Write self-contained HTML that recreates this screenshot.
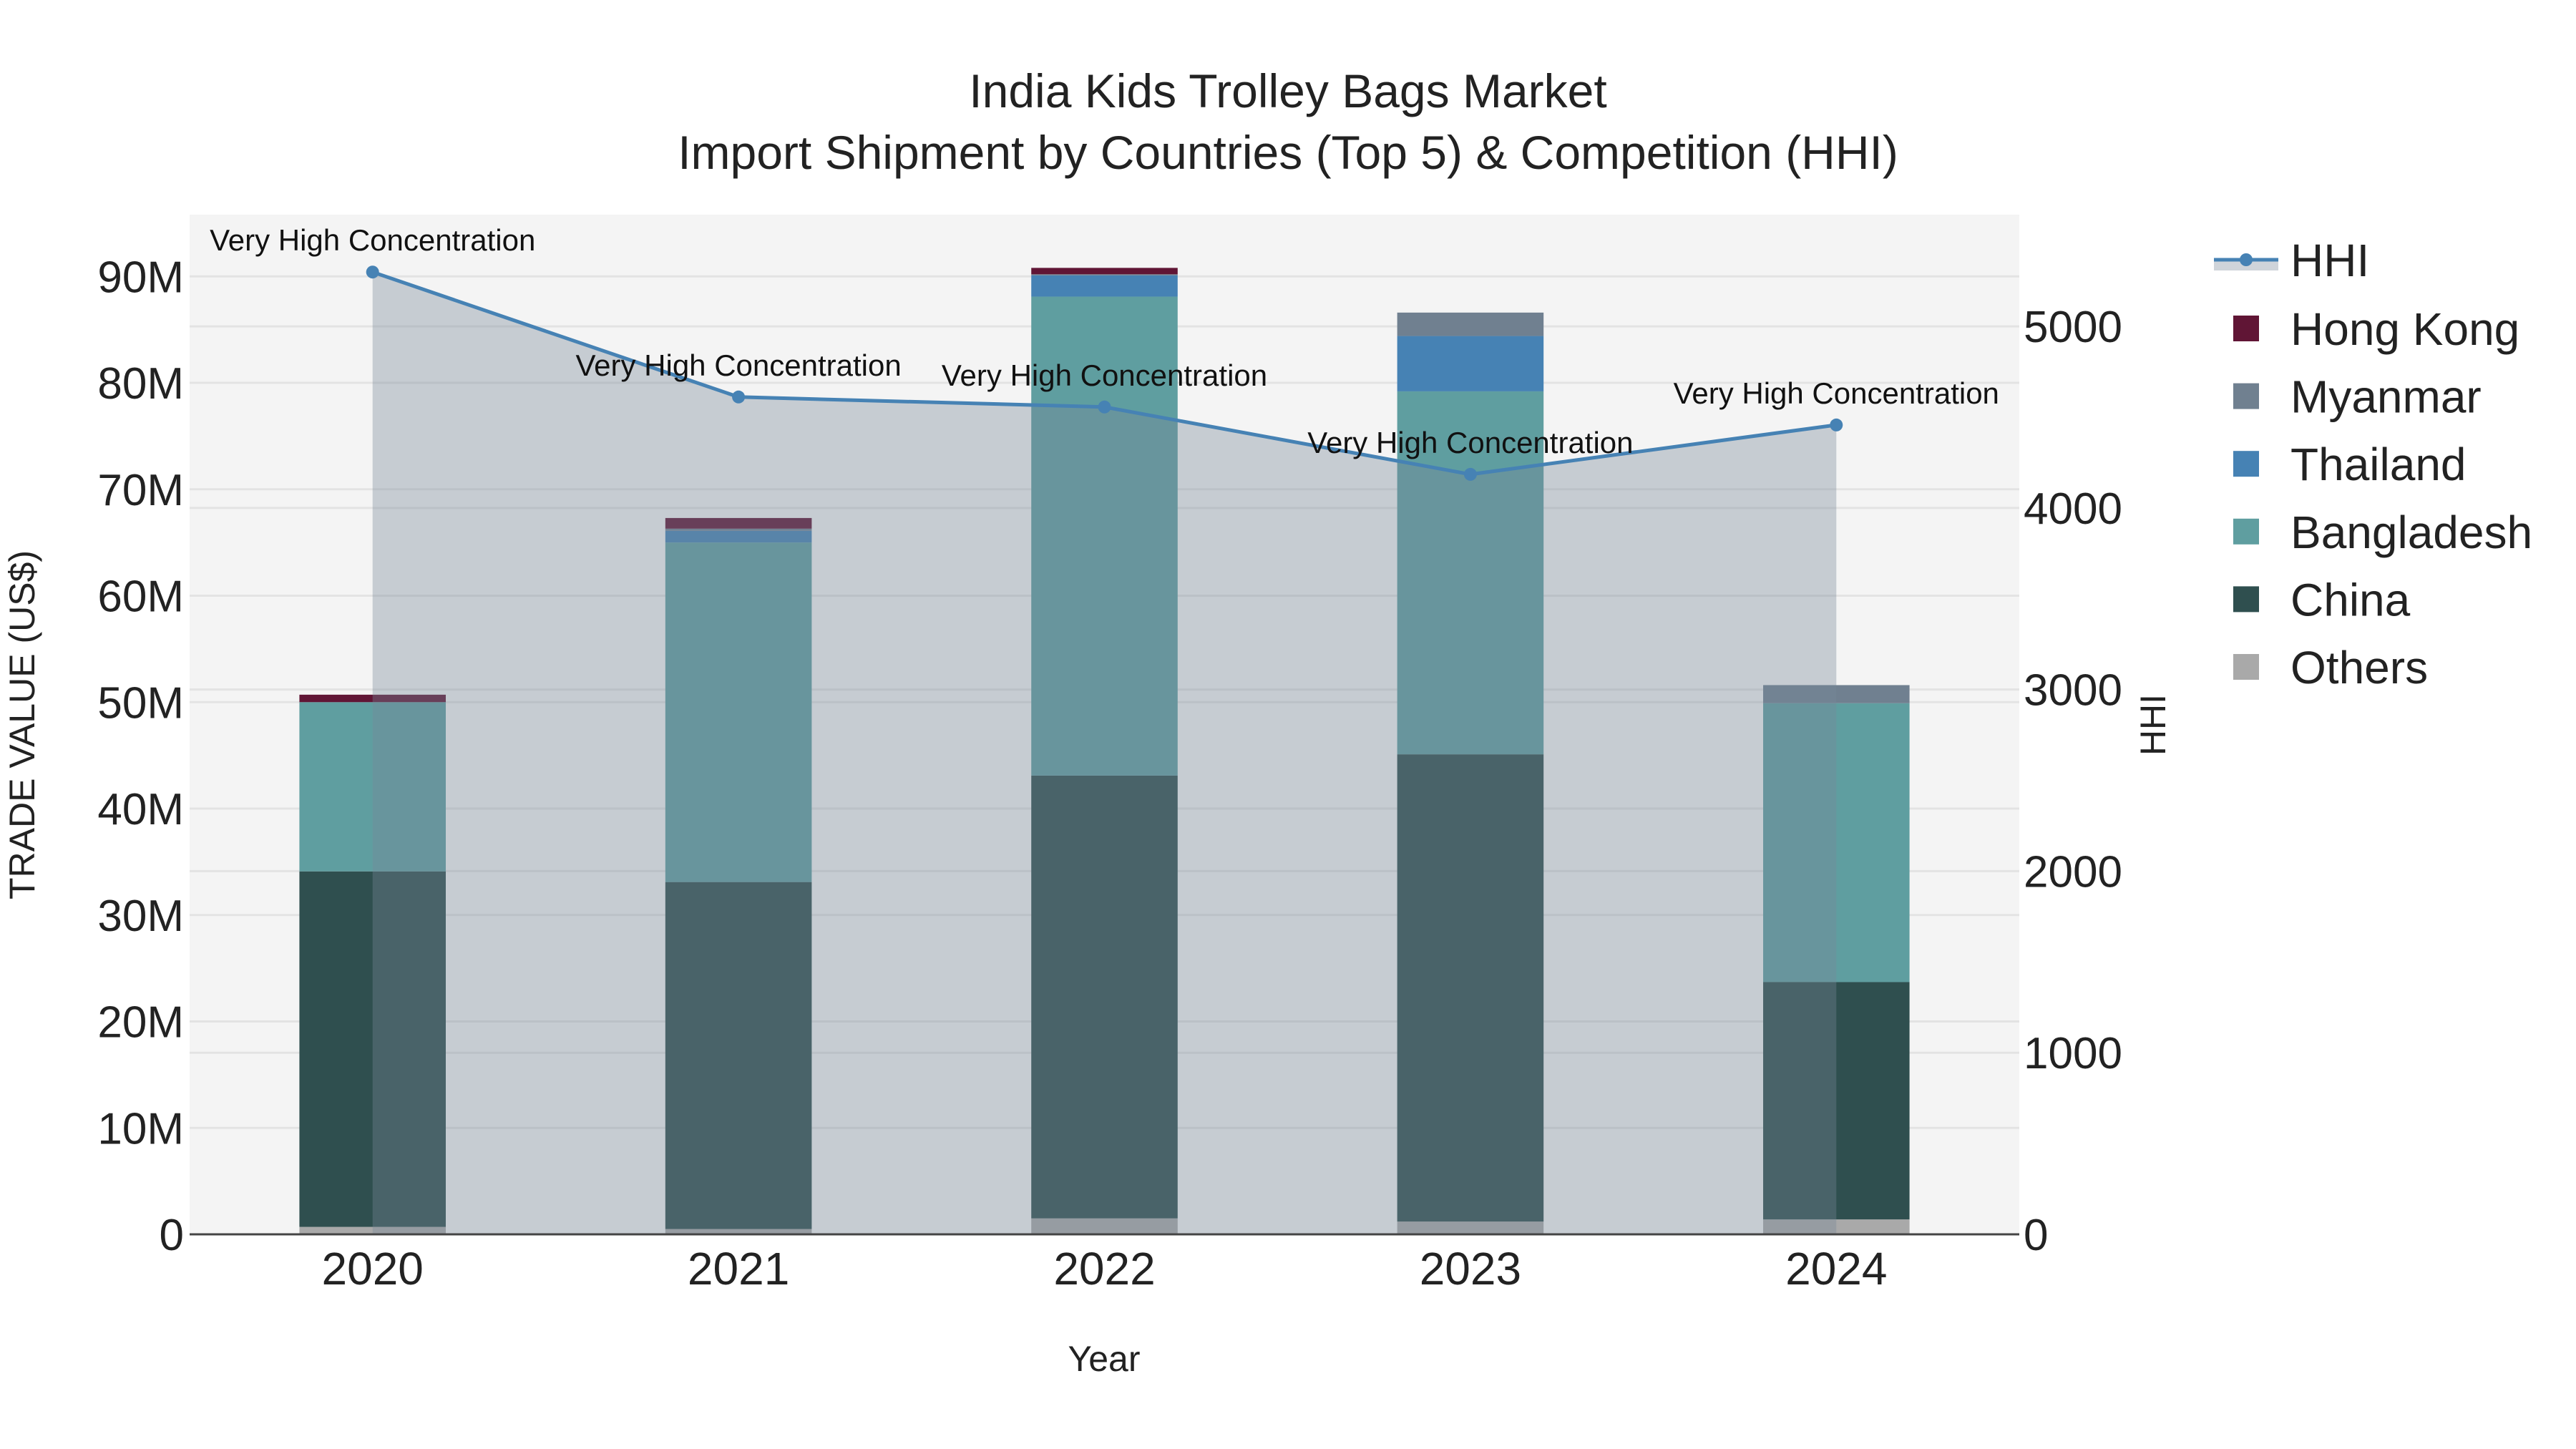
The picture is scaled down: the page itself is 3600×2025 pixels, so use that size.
<!DOCTYPE html>
<html><head><meta charset="utf-8">
<style>
html,body{margin:0;padding:0;background:#fff;}
svg{display:block;font-family:"Liberation Sans",sans-serif;}
</style></head>
<body>
<svg id="chart" width="3600" height="2025" viewBox="0 0 3600 2025" xmlns="http://www.w3.org/2000/svg">
  <text x="1800" y="150" font-size="66" text-anchor="middle" fill="#222">India Kids Trolley Bags Market</text>
  <text x="1800" y="236" font-size="66" text-anchor="middle" fill="#222">Import Shipment by Countries (Top 5) &amp; Competition (HHI)</text>
</svg>
<script>
const years = ['2020','2021','2022','2023','2024'];
const others = [0.7, 0.5, 1.5, 1.2, 1.4];
const china = [33.4, 32.6, 41.6, 43.9, 22.3];
const bangladesh = [15.9, 31.9, 45.0, 34.1, 26.2];
const thailand = [0, 1.1, 2.0, 5.2, 0];
const myanmar = [0, 0.2, 0.1, 2.2, 1.7];
const hongKong = [0.7, 1.0, 0.6, 0, 0];
const hhi = [5299, 4611, 4556, 4185, 4457];
const leftTicks = [0,10,20,30,40,50,60,70,80,90];
const rightTicks = [0,1000,2000,3000,4000,5000];
const annotationText = 'Very High Concentration';

const svg = document.getElementById('chart');
const NS = 'http://www.w3.org/2000/svg';
const L = 265, R = 2822, T = 300, B = 1725;
const yMaxL = 95.8, yMaxR = 5615;
const xs = i => L + (i + 0.5) * (R - L) / years.length;
const yl = v => B - v / yMaxL * (B - T);
const yr = v => B - v / yMaxR * (B - T);
function mk(tag, attrs, parent) {
  const e = document.createElementNS(NS, tag);
  for (const k in attrs) e.setAttribute(k, attrs[k]);
  (parent || svg).appendChild(e);
  return e;
}
const bg = mk('rect', {x:L, y:T, width:R-L, height:B-T, fill:'#f4f4f4'});



leftTicks.forEach(t => {
  const g = mk('line', {x1:L, x2:R, y1:yl(t), y2:yl(t), stroke:'#e3e3e3', 'stroke-width':3});
  
  
  const lb = mk('text', {x:257, y:yl(t)+22, 'font-size':62, 'text-anchor':'end', fill:'#222'});
  lb.textContent = t === 0 ? '0' : t + 'M';
  
  
});
rightTicks.forEach(t => {
  const g = mk('line', {x1:L, x2:R, y1:yr(t), y2:yr(t), stroke:'#e3e3e3', 'stroke-width':3});
  
  
  const lb = mk('text', {x:2828, y:yr(t)+22, 'font-size':62, 'text-anchor':'start', fill:'#222'});
  lb.textContent = String(t);
  
  
});

const series = [
  ['others', others, '#a9a9a9'],
  ['china', china, '#2f4f4f'],
  ['bangladesh', bangladesh, '#5f9ea0'],
  ['thailand', thailand, '#4682b4'],
  ['myanmar', myanmar, '#708090'],
  ['hong-kong', hongKong, '#601535']
];
const bw = 0.4 * (R - L) / years.length;
years.forEach((yv, i) => {
  let base = 0;
  series.forEach(s => {
    const v = s[1][i];
    if (v > 0) {
      const r = mk('rect', {x:xs(i)-bw/2, y:yl(base+v), width:bw, height:yl(base)-yl(base+v), fill:s[2]});
      
      
    }
    base += v;
  });
});

let d = 'M' + xs(0) + ',' + yr(0);
hhi.forEach((v, i) => { d += ' L' + xs(i) + ',' + yr(v); });
d += ' L' + xs(hhi.length-1) + ',' + yr(0) + ' Z';
const area = mk('path', {d:d, fill:'rgb(119,136,153)', 'fill-opacity':0.37});


const ln = mk('polyline', {points:hhi.map((v,i)=>xs(i)+','+yr(v)).join(' '), fill:'none', stroke:'#4682b4', 'stroke-width':5});


hhi.forEach((v, i) => {
  const c = mk('circle', {cx:xs(i), cy:yr(v), r:9, fill:'#4682b4'});
  
  
  const a = mk('text', {x:xs(i), y:yr(v)-30, 'font-size':42, 'text-anchor':'middle', fill:'#111'});
  a.textContent = annotationText;
  
  
});

const ax = mk('line', {x1:L, x2:R, y1:B, y2:B, stroke:'#444', 'stroke-width':3});


years.forEach((yv, i) => {
  const t = mk('text', {x:xs(i), y:1795, 'font-size':64, 'text-anchor':'middle', fill:'#222'});
  t.textContent = yv;
  
  
});
const xt = mk('text', {x:1543, y:1916, 'font-size':50, 'text-anchor':'middle', fill:'#222'});
xt.textContent = 'Year';


const ytl = mk('text', {x:0, y:0, 'font-size':50, 'text-anchor':'middle', fill:'#222', transform:'translate(48,1013) rotate(-90)'});
ytl.textContent = 'TRADE VALUE (US$)';


const ytr = mk('text', {x:0, y:0, 'font-size':50, 'text-anchor':'middle', fill:'#222', transform:'translate(3026,1013) rotate(-90)'});
ytr.textContent = 'HHI';



const lg = mk('g', {});


const band = mk('rect', {x:3094, y:364, width:90, height:14, fill:'#cfd4da'}, lg);


const ll = mk('line', {x1:3094, x2:3184, y1:363, y2:363, stroke:'#4682b4', 'stroke-width':5}, lg);


const lc = mk('circle', {cx:3139, cy:363, r:9, fill:'#4682b4'}, lg);


const lt0 = mk('text', {x:3201, y:386, 'font-size':64, fill:'#222'}, lg);
lt0.textContent = 'HHI';


const legItems = [['Hong Kong','#601535'],['Myanmar','#708090'],['Thailand','#4682b4'],['Bangladesh','#5f9ea0'],['China','#2f4f4f'],['Others','#a9a9a9']];
legItems.forEach((it, k) => {
  const cy = 459 + k * 94.6;
  const s = mk('rect', {x:3121, y:cy-18, width:36, height:36, fill:it[1]}, lg);
  
  
  const t = mk('text', {x:3201, y:cy+23, 'font-size':64, fill:'#222'}, lg);
  t.textContent = it[0];
  
  
});
</script>
</body></html>
